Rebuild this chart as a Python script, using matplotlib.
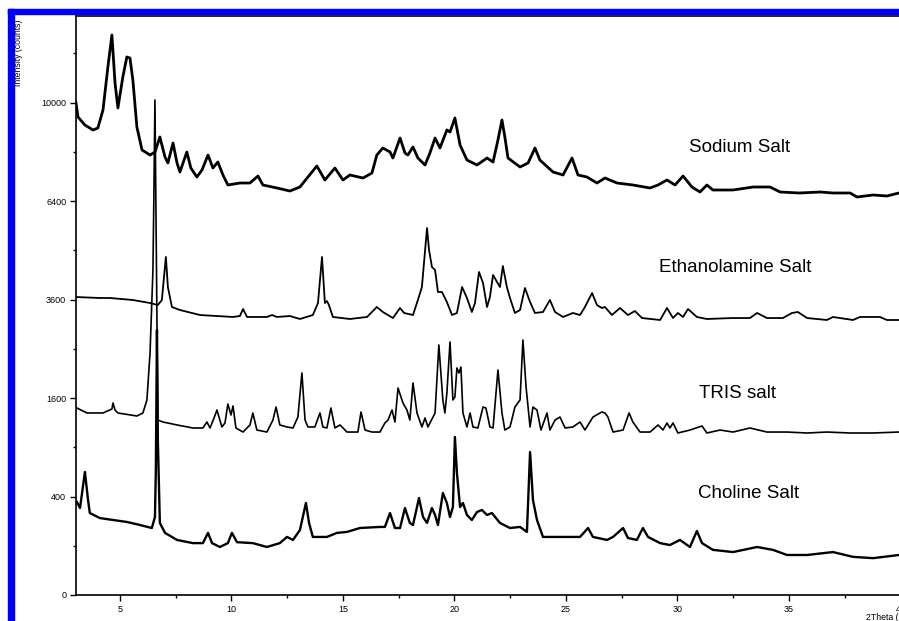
import numpy as np
import matplotlib.pyplot as plt
from matplotlib.patches import Rectangle

plt.rcParams["font.family"] = ["Liberation Sans", "DejaVu Sans"]

# 2Theta / Intensitaet (counts)
sodium_2theta = [3.03, 3.12, 3.43, 3.79, 4.01, 4.24, 4.46, 4.64, 4.78, 4.91, 5.13, 5.31, 5.45, 5.58, 5.76, 5.99,
                 6.35, 6.57, 6.79, 7.02, 7.15, 7.38, 7.56, 7.69, 8.00, 8.18, 8.45, 8.68, 8.95, 9.17, 9.39, 9.62,
                 9.84, 10.38, 10.83, 11.19, 11.41, 12.04, 12.62, 13.07, 13.43, 13.83, 14.19, 14.64, 15.00, 15.31,
                 15.90, 16.30, 16.52, 16.79, 17.11, 17.24, 17.56, 17.78, 17.91, 18.14, 18.36, 18.68, 18.90, 19.13,
                 19.35, 19.66, 19.80, 20.02, 20.25, 20.56, 21.01, 21.46, 21.73, 21.95, 22.13, 22.26, 22.40, 22.94,
                 23.30, 23.61, 23.83, 24.42, 24.87, 25.27, 25.54, 25.94, 26.39, 26.75, 27.29, 28.00, 28.77, 29.13,
                 29.53, 29.89, 30.25, 30.65, 31.01, 31.32, 31.59, 32.49, 33.39, 34.15, 34.60, 35.46, 36.39, 36.97,
                 37.74, 38.05, 38.77, 39.39, 39.93]
sodium_counts = [9980, 9420, 9107, 8915, 8991, 9698, 11494, 12930, 10808, 9779, 11063, 11934, 11889, 10935, 9031, 8165,
                 7982, 8091, 8649, 7910, 7694, 8423, 7694, 7377, 8091, 7517, 7204, 7447, 7982, 7517, 7730, 7273,
                 6931, 6998, 6998, 7238, 6931, 6830, 6729, 6863, 7204, 7588, 7101, 7517, 7101, 7273,
                 7169, 7342, 7982, 8238, 8091, 7874, 8611, 8055, 7982, 8275, 7874, 7623, 8055, 8611,
                 8238, 8915, 8838, 9381, 8349, 7801, 7623, 7874, 7730, 8536, 9302, 8649, 7874, 7553,
                 7694, 8238, 7801, 7377, 7273, 7874, 7273, 7204, 6998, 7169, 6998, 6931, 6830, 6931,
                 7101, 6931, 7238, 6863, 6696, 6931, 6763, 6763, 6863, 6863, 6696, 6663, 6696, 6663,
                 6663, 6531, 6597, 6564, 6663]

ethanol_2theta = [3.03, 4.10, 4.55, 5.58, 6.35, 6.70, 6.88, 7.06, 7.15, 7.33, 7.69, 8.59, 10.07, 10.38, 10.52, 10.70,
                  11.59, 11.82, 12.04, 12.62, 13.07, 13.65, 13.88, 14.06, 14.19, 14.28, 14.37, 14.55, 15.31, 16.08,
                  16.52, 16.79, 17.24, 17.56, 17.74, 18.14, 18.36, 18.54, 18.77, 18.86, 18.99, 19.13, 19.26, 19.44,
                  19.66, 19.89, 20.11, 20.34, 20.56, 20.78, 20.92, 21.10, 21.28, 21.46, 21.59, 21.73, 21.91, 22.04,
                  22.17, 22.35, 22.49, 22.71, 22.94, 23.16, 23.39, 23.61, 23.97, 24.28, 24.51, 24.87, 25.31, 25.63,
                  25.85, 26.17, 26.39, 26.61, 26.75, 27.06, 27.42, 27.78, 28.09, 28.41, 29.22, 29.53, 29.80, 30.02,
                  30.25, 30.47, 30.87, 31.32, 32.49, 33.25, 33.57, 34.01, 34.73, 35.13, 35.40, 35.81, 36.70, 36.97,
                  37.87, 38.18, 39.08, 39.39, 39.93]
ethanol_counts = [3661, 3637, 3637, 3588, 3515, 3467, 3588, 4710, 3911, 3420, 3349, 3232, 3187, 3209, 3372, 3187,
                  3187, 3232, 3187, 3209, 3141, 3232, 3515, 4710, 3515, 3564, 3467, 3187, 3141, 3187,
                  3420, 3302, 3163, 3396, 3279, 3232, 3588, 3911, 5553, 4907, 4436, 4355, 3785, 3785,
                  3539, 3232, 3279, 3911, 3637, 3302, 3515, 4302, 4013, 3420, 3661, 4222, 4039, 3911,
                  4463, 3911, 3637, 3279, 3349, 3886, 3539, 3279, 3302, 3588, 3302, 3187, 3279, 3232,
                  3420, 3760, 3467, 3396, 3420, 3232, 3396, 3232, 3325, 3163, 3118, 3396, 3163, 3279,
                  3187, 3372, 3187, 3141, 3163, 3163, 3279, 3163, 3163, 3279, 3302, 3163, 3118, 3187,
                  3118, 3187, 3187, 3118, 3118]

tris_2theta = [3.07, 3.52, 4.24, 4.64, 4.69, 4.78, 4.91, 5.76, 6.03, 6.21, 6.35, 6.43, 6.48, 6.52, 6.57, 6.61, 6.66,
               6.70, 6.93, 7.56, 8.27, 8.72, 8.90, 9.04, 9.22, 9.35, 9.57, 9.71, 9.84, 9.98, 10.07, 10.20, 10.52,
               10.83, 10.96, 11.14, 11.59, 11.86, 12.00, 12.17, 12.49, 12.76, 12.98, 13.16, 13.30, 13.43, 13.74,
               13.97, 14.10, 14.28, 14.46, 14.64, 14.87, 14.96, 15.18, 15.67, 15.81, 15.99, 16.30, 16.66, 16.88,
               17.02, 17.20, 17.33, 17.47, 17.69, 17.87, 18.00, 18.14, 18.32, 18.54, 18.68, 18.81, 19.13, 19.30,
               19.48, 19.57, 19.66, 19.80, 19.93, 20.02, 20.11, 20.20, 20.29, 20.38, 20.56, 20.70, 20.83, 21.05,
               21.28, 21.41, 21.59, 21.73, 21.95, 22.13, 22.26, 22.49, 22.71, 22.94, 23.07, 23.21, 23.39, 23.52,
               23.70, 23.88, 24.15, 24.28, 24.51, 24.73, 24.96, 25.31, 25.63, 25.85, 26.21, 26.61, 26.75, 26.88,
               27.11, 27.56, 27.83, 28.00, 28.32, 28.77, 29.13, 29.35, 29.53, 29.66, 29.80, 30.02, 30.56, 31.10,
               31.32, 31.91, 32.49, 33.25, 34.01, 34.91, 35.81, 36.70, 37.74, 38.77, 39.93]
tris_counts = [1442, 1366, 1366, 1426, 1520, 1411, 1366, 1321, 1366, 1568, 2415, 3588, 4355, 6432, 10102, 6432, 2895,
               1262, 1234, 1192, 1150, 1150, 1234, 1150, 1292, 1411, 1164, 1220, 1504, 1336, 1473, 1150, 1095,
               1192, 1366, 1122, 1095, 1262, 1457, 1192, 1164, 1150, 1306, 2032, 1262, 1164, 1164,
               1366, 1164, 1150, 1442, 1150, 1192, 1164, 1095, 1095, 1381, 1122, 1095, 1095, 1220,
               1262, 1411, 1234, 1767, 1520, 1411, 1262, 1853, 1366, 1164, 1292, 1164, 1366, 2577,
               1568, 1366, 1682, 2639, 1568, 1616, 2125, 2032, 2143, 1366, 1164, 1366, 1164, 1150,
               1457, 1442, 1164, 1150, 2087, 1366, 1122, 1164, 1457, 1568, 2681, 1784, 1164, 1457,
               1411, 1122, 1366, 1122, 1262, 1306, 1150, 1164, 1234, 1122, 1306, 1381, 1366, 1306,
               1095, 1122, 1366, 1234, 1095, 1095, 1192, 1122, 1220, 1150, 1220, 1082, 1122, 1178,
               1082, 1122, 1095, 1150, 1095, 1095, 1082, 1095, 1082, 1082, 1095]

choline_2theta = [3.07, 3.21, 3.43, 3.57, 3.65, 4.10, 4.69, 5.31, 5.90, 6.43, 6.57, 6.61, 6.66, 6.70, 6.79, 7.02,
                  7.56, 8.27, 8.72, 8.95, 9.13, 9.48, 9.84, 10.02, 10.25, 10.96, 11.59, 12.17, 12.49, 12.76, 13.07,
                  13.34, 13.48, 13.65, 14.28, 14.73, 15.18, 15.76, 16.66, 16.88, 17.11, 17.33, 17.56, 17.78, 18.00,
                  18.14, 18.41, 18.59, 18.77, 18.99, 19.13, 19.26, 19.48, 19.66, 19.80, 19.93, 20.02, 20.11, 20.25,
                  20.38, 20.56, 20.78, 21.01, 21.23, 21.46, 21.68, 22.04, 22.49, 22.94, 23.25, 23.39, 23.52, 23.70,
                  23.97, 24.60, 25.18, 25.63, 25.99, 26.21, 26.84, 27.11, 27.56, 27.78, 28.18, 28.45, 28.68, 29.22,
                  29.66, 30.11, 30.56, 30.87, 31.10, 31.59, 32.49, 33.57, 34.28, 34.91, 35.81, 36.97, 37.87, 38.77,
                  39.93]
choline_counts = [357, 312, 624, 372, 277, 244, 232, 220, 202, 185, 251, 644, 2895, 991, 214, 159,
                  125, 111, 111, 159, 111, 95, 111, 159, 115, 111, 95, 111, 139, 125, 174,
                  349, 214, 139, 139, 159, 164, 185, 191, 191, 277, 185, 185, 312, 214,
                  202, 388, 251, 214, 312, 264, 202, 429, 349, 251, 319, 1029, 614, 319,
                  349, 264, 232, 284, 298, 264, 277, 214, 185, 191, 164, 843, 372, 232,
                  139, 139, 139, 139, 185, 139, 125, 139, 185, 134, 125, 185, 139, 111,
                  103, 125, 95, 169, 111, 84, 76, 95, 84, 66, 66, 76, 60, 56,
                  66]

salt_names = ["Sodium Salt", "Ethanolamine Salt", "TRIS salt", "Choline Salt"]
y_ticks = [0, 400, 1600, 3600, 6400, 10000]
y_minor = [100, 900, 2500, 4900, 8100, 12100]
x_ticks = [5, 10, 15, 20, 25, 30, 35, 40]
x_minor = [7.5, 12.5, 17.5, 22.5, 27.5, 32.5, 37.5]


def sqrt_fwd(v):
    return np.sqrt(np.maximum(v, 0))


def sqrt_inv(v):
    return np.asarray(v) ** 2


fig = plt.figure(figsize=(8.99, 6.21), dpi=100)
ax = fig.add_axes([76 / 899, 26 / 621, 824.5 / 899, 579 / 621])

# blauer Rahmen links und oben
fig.patches.append(Rectangle((8 / 899, 0), 6 / 899, 612 / 621, transform=fig.transFigure,
                             color="#0000ff", zorder=0))
fig.patches.append(Rectangle((8 / 899, 607 / 621), 891 / 899, 5 / 621, transform=fig.transFigure,
                             color="#0000ff", zorder=0))

ax.plot(sodium_2theta, sodium_counts, color="black", lw=2.0)
ax.plot(ethanol_2theta, ethanol_counts, color="black", lw=1.3)
ax.plot(tris_2theta, tris_counts, color="black", lw=1.2)
ax.plot(choline_2theta, choline_counts, color="black", lw=1.7)

ax.set_yscale("function", functions=(sqrt_fwd, sqrt_inv))
ax.set_xlim(3.03, 40)
ax.set_ylim(0, 13822)
ax.set_yticks(y_ticks)
ax.set_yticklabels([str(v) for v in y_ticks])
ax.set_yticks(y_minor, minor=True)
ax.set_xticks(x_ticks)
ax.set_xticklabels([str(v) for v in x_ticks])
ax.set_xticks(x_minor, minor=True)

ax.tick_params(which="major", direction="out", length=4.5, width=1.0, labelsize=6.5, pad=2.5)
ax.tick_params(which="minor", direction="out", length=2.2, width=1.0)
for s in ax.spines.values():
    s.set_linewidth(1.2)

ax.text(32.78, 8091, salt_names[0], ha="center", va="baseline", fontsize=13.5)
ax.text(32.60, 4302, salt_names[1], ha="center", va="baseline", fontsize=13.5)
ax.text(32.71, 1600, salt_names[2], ha="center", va="baseline", fontsize=13.5)
ax.text(33.18, 388, salt_names[3], ha="center", va="baseline", fontsize=13.5)

fig.text(18.5 / 899, 1 - 53 / 621, "Intensity (counts)", rotation=90, ha="center", va="center", fontsize=6.3)
fig.text(866 / 899, 1 - 617.5 / 621, "2Theta (°)", ha="left", va="center", fontsize=6.3)

fig.savefig("out.png", dpi=100)
